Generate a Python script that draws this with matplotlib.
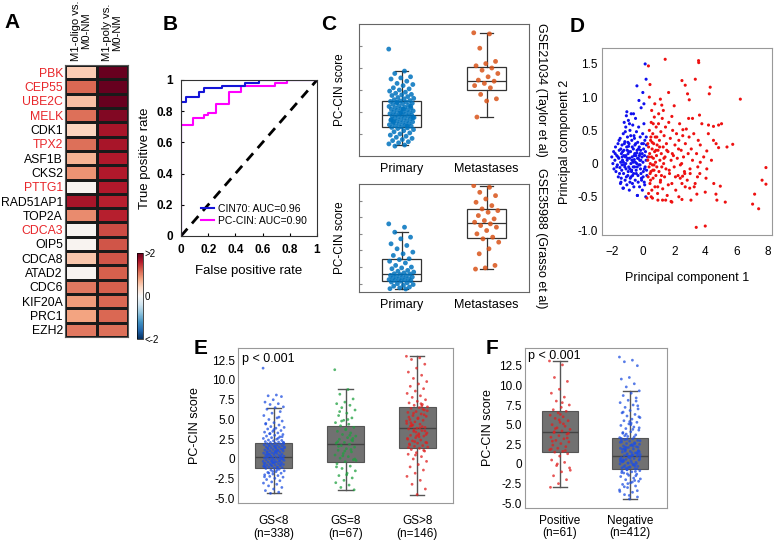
import numpy as np
import matplotlib
matplotlib.use('Agg')
import matplotlib.pyplot as plt
from matplotlib.cm import ScalarMappable
from matplotlib.colors import Normalize

plt.rcParams['font.family'] = ['Liberation Sans', 'DejaVu Sans']

W, H = 778, 541

# ---- A: heatmap ----
genes = ['PBK', 'CEP55', 'UBE2C', 'MELK', 'CDK1', 'TPX2', 'ASF1B', 'CKS2', 'PTTG1', 'RAD51AP1',
         'TOP2A', 'CDCA3', 'OIP5', 'CDCA8', 'ATAD2', 'CDC6', 'KIF20A', 'PRC1', 'EZH2']
red_genes = ['PBK', 'CEP55', 'UBE2C', 'MELK', 'TPX2', 'PTTG1', 'CDCA3']
oligo = [0.5, 1.15, 0.6, 1.1, 0.45, 1.1, 0.7, 0.9, 0.05, 1.65,
         0.95, 0.05, 0.05, 0.55, 0.05, 1.05, 0.85, 0.8, 1.05]
poly = [2.0, 2.0, 2.0, 1.85, 1.65, 1.65, 1.6, 1.6, 1.6, 1.55,
        1.55, 1.3, 1.25, 1.25, 1.2, 1.2, 1.15, 1.15, 1.1]
col_labels = ['M1-oligo vs.\nM0-NM', 'M1-poly vs.\nM0-NM']

# ---- B: ROC ----
cin70_fpr = [0, 0, 0.04, 0.04, 0.13, 0.13, 0.17, 0.17, 0.30, 0.30, 0.47, 0.47, 0.57, 0.57, 1.0]
cin70_tpr = [0, 0.86, 0.86, 0.89, 0.89, 0.925, 0.925, 0.946, 0.946, 0.96, 0.96, 0.98, 0.98, 1.0, 1.0]
pccin_fpr = [0, 0, 0.09, 0.09, 0.17, 0.17, 0.20, 0.20, 0.26, 0.26, 0.35, 0.35, 0.44, 0.44,
             0.69, 0.69, 0.78, 0.78, 1.0]
pccin_tpr = [0, 0.71, 0.71, 0.755, 0.755, 0.776, 0.776, 0.79, 0.79, 0.846, 0.846, 0.925, 0.925,
             0.96, 0.96, 0.98, 0.98, 1.0, 1.0]

# ---- C: PC-CIN score in two cohorts ----
c_groups = ['Primary', 'Metastases']
taylor_prim = [4.86, 3.86, 3.75, 3.6, 3.55, 3.5, 3.4, 3.3, 3.25, 3.2, 3.1, 3.05, 3.0, 2.95, 2.9,
               2.85, 2.8, 2.78, 2.75, 2.7, 2.66, 2.62, 2.6, 2.56, 2.52, 2.5, 2.48, 2.45, 2.42, 2.4,
               2.38, 2.35, 2.3, 2.28, 2.25, 2.22, 2.2, 2.18, 2.15, 2.12, 2.1, 2.08, 2.05, 2.02, 2.0,
               1.98, 1.95, 1.92, 1.9, 1.88, 1.86, 1.84, 1.82, 1.8, 1.78, 1.75, 1.72, 1.7, 1.68, 1.65,
               1.62, 1.6, 1.58, 1.55, 1.52, 1.5, 1.48, 1.45, 1.42, 1.4, 1.38, 1.35, 1.32, 1.3, 1.28,
               1.25, 1.2, 1.15, 1.1, 1.05, 1.0, 0.95, 0.9, 0.85, 0.8, 0.75, 0.7, 0.65, 0.6, 0.55,
               0.5, 0.45, 2.26, 1.96, 1.66, 1.36, 2.44, 1.74, 2.14, 1.56]
taylor_met = [5.6, 5.55, 4.9, 4.3, 4.2, 4.1, 4.0, 3.9, 3.75, 3.6, 3.45, 3.4, 3.3, 3.2, 3.1,
              2.8, 2.6, 2.5, 1.77]
taylor_box = {'q1': [1.32, 3.0], 'med': [1.86, 3.4], 'q3': [2.5, 4.05],
              'lo': [0.5, 1.77], 'hi': [3.86, 5.6]}
grasso_prim = [4.1, 3.9, 3.6, 3.3, 3.2, 2.9, 2.8, 2.6, 2.4, 2.3, 2.2, 2.0, 1.95, 1.85, 1.75,
               1.6, 1.5, 1.45, 1.4, 1.3, 1.25, 1.2, 1.15, 1.1, 1.08, 1.05, 1.0, 0.98, 0.95, 0.9,
               0.88, 0.85, 0.8, 0.78, 0.75, 0.72, 0.7, 0.68, 0.65, 0.6, 0.55, 0.5, 0.45, 0.4,
               0.35, 0.3, 0.25, 0.2, 0.18]
grasso_met = [6.4, 6.3, 6.0, 5.8, 5.6, 5.4, 5.2, 5.0, 4.9, 4.8, 4.6, 4.4, 4.3, 4.2, 4.1, 4.0,
              3.9, 3.7, 3.5, 3.3, 3.2, 3.0, 2.6, 2.3, 1.6, 1.45, 1.38]
grasso_box = {'q1': [0.66, 3.23], 'med': [1.08, 4.13], 'q3': [1.98, 4.97],
              'lo': [0.18, 1.38], 'hi': [3.6, 6.4]}

# ---- D: PCA ----
pc1_blue = [-2.02, -1.95, -1.90, -1.88, -1.82, -1.78, -1.75, -1.70, -1.66, -1.62,
            -1.60, -1.57, -1.54, -1.50, -1.48, -1.45, -1.43, -1.40, -1.38, -1.36,
            -1.33, -1.30, -1.28, -1.26, -1.24, -1.22, -1.20, -1.18, -1.16, -1.14,
            -1.12, -1.10, -1.08, -1.06, -1.05, -1.03, -1.01, -0.99, -0.97, -0.95,
            -0.93, -0.91, -0.89, -0.87, -0.85, -0.83, -0.81, -0.79, -0.77, -0.75,
            -0.73, -0.71, -0.69, -0.67, -0.65, -0.63, -0.61, -0.59, -0.57, -0.55,
            -0.53, -0.51, -0.49, -0.47, -0.45, -0.43, -0.41, -0.39, -0.37, -0.35,
            -0.33, -0.31, -0.29, -0.27, -0.25, -0.23, -0.21, -0.19, -0.17, -0.15,
            -0.13, -0.11, -0.09, -0.07, -0.05, -0.03, -0.01, 0.01, 0.03, 0.05,
            0.07, 0.09, 0.11, 0.13, 0.15, 0.17, 0.19, 0.21, 0.24, 0.28,
            -1.52, -1.35, -1.18, -1.02, -0.86, -0.70, -0.54, -0.38, -0.22, -0.06,
            -1.44, -1.27, -1.11, -0.96, -0.80, -0.64, -0.48, -0.32, -0.16, 0.00,
            -1.62, -1.41, -1.21, -1.00, -0.78, -0.58, -0.36, -0.14, 0.08, 0.20,
            0.13, 0.19, -0.40, -0.02, -1.05, -0.62, -0.27, 0.05, -1.27, -0.37,
            -0.88, -1.15, -0.72, -0.44, -1.32, -0.98, -0.60, -0.24, -0.85, -1.08,
            -1.70, -1.55, -1.36, -1.12, -0.92, -0.68, -0.50, -0.30, -0.10, 0.10,
            -1.80, -1.46, -1.24, -0.94, -0.74, -0.56, -0.42, -0.20, 0.02, 0.22]
pc2_blue = [0.10, 0.00, 0.18, -0.08, 0.05, 0.25, -0.12, 0.12, -0.02, 0.30,
            -0.20, 0.08, 0.20, -0.06, 0.38, 0.02, -0.28, 0.15, -0.10, 0.28,
            0.05, -0.37, 0.45, -0.15, 0.20, 0.62, -0.02, 0.33, -0.25, 0.10,
            0.55, -0.08, 0.72, 0.25, -0.32, 0.05, 0.40, -0.18, 0.15, 0.65,
            -0.05, 0.30, -0.40, 0.08, 0.50, -0.22, 0.18, 0.00, 0.75, -0.12,
            0.35, 0.10, -0.30, 0.58, 0.02, 0.22, -0.15, 0.42, 0.06, -0.05,
            0.28, -0.25, 0.68, 0.12, -0.10, 0.48, 0.00, 0.20, -0.48, 0.32,
            -0.18, 0.08, 0.55, -0.02, 0.25, -0.35, 0.15, 0.40, -0.08, 0.05,
            0.84, -0.22, 0.30, 0.10, -0.40, 0.45, 0.02, -0.12, 0.22, 0.60,
            -0.28, 0.12, 0.35, -0.05, 0.18, -0.50, 0.05, 0.28, -0.18, 0.10,
            -0.15, 0.10, -0.05, 0.20, -0.08, 0.25, 0.15, -0.05, 0.05, 0.15,
            0.22, 0.02, 0.12, -0.12, 0.42, -0.05, 0.30, -0.28, 0.20, -0.20,
            0.10, -0.22, 0.30, 0.08, -0.20, 0.12, 0.08, -0.15, -0.08, 0.40,
            1.50, 1.27, 1.17, 1.07, 0.78, 0.75, 0.95, 0.90, -0.37, -0.48,
            0.60, 0.48, 0.05, -0.15, 0.18, 0.32, -0.35, 0.12, -0.28, -0.20,
            -0.05, 0.35, -0.02, 0.00, 0.18, -0.18, 0.02, 0.22, -0.25, -0.32,
            0.15, -0.30, 0.12, 0.26, -0.10, 0.38, 0.16, -0.02, 0.30, -0.10]
pc1_red = [1.42, 3.57, 3.58, 0.34, 0.44, 2.50, 3.36, 2.71, 4.32, 4.26, 1.64, 2.86, 2.97, 6.26,
           1.11, 2.00, 1.20, 3.63, 2.93, 3.18, 1.85, 4.21, 4.86, 4.53, 2.56, 5.77, 4.53, 4.86,
           3.68, 4.10, 7.91, 7.66, 7.91, 7.18, 7.05, 7.44, 5.29, 4.75, 4.69, 4.97, 4.00, 3.42,
           4.00, 3.08, 2.50, 1.80, 1.25, 0.24, 0.52, 3.46, 3.29, 3.00, 2.71, 2.39, 3.03, 3.50,
           3.52, 2.54, 4.10, 3.68,
           0.30, 0.32, 0.35, 0.38, 0.40, 0.42, 0.44, 0.46, 0.48, 0.50,
           0.52, 0.54, 0.56, 0.58, 0.60, 0.62, 0.64, 0.66, 0.68, 0.70,
           0.72, 0.74, 0.76, 0.78, 0.80, 0.82, 0.84, 0.86, 0.88, 0.90,
           0.93, 0.96, 0.99, 1.02, 1.05, 1.08, 1.11, 1.14, 1.17, 1.20,
           1.23, 1.26, 1.29, 1.32, 1.35, 1.38, 1.41, 1.44, 1.47, 1.50,
           1.55, 1.60, 1.65, 1.70, 1.75, 1.80, 1.85, 1.90, 1.95, 2.00,
           2.05, 2.10, 2.15, 2.20, 2.25, 2.30, 2.35, 2.40, 2.45, 2.50,
           2.55, 2.60, 2.66, 2.72, 2.78, 2.84, 2.90, 2.96, 3.02, 3.10,
           3.18, 3.26, 3.35, 3.44, 3.55, 3.65, 3.78, 3.90, 4.05, 4.20,
           4.40, 4.55, 4.70, 5.05, 5.40, 0.35, 0.50, 0.65, 0.30, 0.45,
           0.55, 0.75, 1.00, 1.30, 0.95, 1.45, 1.85, 0.60, 2.30, 0.40,
           0.36, 0.48, 0.58, 0.70, 0.82, 0.94, 1.06, 1.18, 1.34, 1.52,
           1.68, 1.88, 2.08, 2.28, 2.48, 2.68, 0.62, 0.88, 1.12, 1.62]
pc2_red = [1.57, 1.55, 1.52, 1.47, 1.19, 1.25, 1.27, 1.18, 1.15, 1.05, 1.07, 1.05, 0.96, 0.97,
           0.97, 0.87, 0.88, 0.73, 0.68, 0.68, 0.71, 0.58, 0.58, 0.56, 0.51, 0.29, 0.35, 0.24,
           0.28, 0.19, -0.06, -0.25, -0.31, -0.46, -0.61, -0.68, -0.58, -0.55, -0.46, -0.34, -0.43, -0.96,
           -0.94, -0.55, -0.54, -0.57, -0.55, -0.52, -0.50, -0.46, -0.35, -0.37, -0.35, -0.22, -0.15, -0.20,
           -0.05, -0.19, -0.08, 0.02,
           0.05, -0.20, 0.25, -0.05, 0.50, 0.15, -0.30, 0.00, 0.35, -0.12,
           0.62, 0.10, -0.40, 0.22, -0.02, 0.45, -0.22, 0.08, 0.30, -0.10,
           0.70, 0.18, -0.35, 0.40, 0.02, -0.18, 0.55, 0.12, -0.05, 0.28,
           -0.45, 0.20, 0.60, -0.12, 0.35, 0.05, -0.28, 0.48, 0.15, -0.05,
           0.68, -0.38, 0.25, 0.00, 0.42, -0.20, 0.10, 0.55, -0.08, 0.30,
           -0.48, 0.18, 0.62, -0.15, 0.38, 0.05, -0.30, 0.50, 0.12, -0.05,
           0.28, -0.40, 0.45, 0.08, -0.18, 0.35, 0.60, -0.02, 0.20, -0.30,
           0.42, 0.10, -0.12, 0.30, 0.52, -0.25, 0.15, 0.40, -0.08, 0.22,
           0.05, 0.45, -0.30, 0.15, 0.35, -0.15, 0.60, 0.10, -0.22, 0.45,
           0.05, -0.30, 0.30, 0.60, 0.25, -0.45, 0.40, 0.60, 0.30, -0.15,
           0.80, 0.90, 0.75, 0.80, -0.55, -0.55, -0.58, -0.52, -0.50, 1.00,
           0.10, -0.25, 0.32, -0.02, 0.20, -0.35, 0.25, -0.18, 0.08, 0.20,
           -0.10, 0.15, -0.20, 0.22, 0.00, -0.15, -0.10, 0.40, -0.25, -0.32]

# ---- E: Gleason score ----
e_groups = ['GS<8\n(n=338)', 'GS=8\n(n=67)', 'GS>8\n(n=146)']
gs_lt8 = [11.5, 8.1, 8.0, 7.9, 7.5, 7.2, 7.0, 6.9, 6.6, 6.5, 6.3, 6.0, 5.8, 5.5, 5.2, 5.0,
          4.8, 4.6, 4.5, 4.3, 4.1, 4.0, 3.9, 3.8, 3.6, 3.5, 3.4, 3.3, 3.2, 3.1, 3.0, 2.9,
          2.8, 2.7, 2.6, 2.5, 2.4, 2.35, 2.3, 2.2, 2.15, 2.1, 2.05, 2.0, 1.95, 1.9, 1.85,
          1.8, 1.75, 1.7, 1.65, 1.6, 1.55, 1.5, 1.45, 1.4, 1.35, 1.3, 1.25, 1.2, 1.15, 1.1,
          1.05, 1.0, 0.95, 0.9, 0.85, 0.8, 0.75, 0.7, 0.65, 0.6, 0.55, 0.5, 0.45, 0.4, 0.35,
          0.3, 0.25, 0.2, 0.15, 0.1, 0.05, 0.0, -0.05, -0.1, -0.15, -0.2, -0.25, -0.3, -0.35,
          -0.4, -0.45, -0.5, -0.55, -0.6, -0.65, -0.7, -0.75, -0.8, -0.85, -0.9, -0.95, -1.0,
          -1.05, -1.1, -1.15, -1.2, -1.3, -1.4, -1.5, -1.6, -1.7, -1.8, -1.9, -2.0, -2.1,
          -2.2, -2.3, -2.45, -2.6, -2.75, -2.9, -3.05, -3.2, -3.4, -3.6, -3.8, -4.0, -4.2,
          -4.35, 1.92, 1.42, 0.92, 0.42, -0.08, -0.58, -1.08, 1.72, 1.22, 0.72, 0.22, -0.28,
          -0.78, 1.52, 1.02, 0.52, 0.02, -0.48, -0.98, 2.62, 3.22, 2.12, 1.62, 0.62, 0.12,
          -0.38, -0.88, -1.38, -1.78, 2.82, 3.72, 4.42, 5.3, 0.33, -0.18, 0.88, 1.38, -0.68,
          -1.58, -2.25, 1.08, 0.58, 0.08, -0.42]
gs_eq8 = [11.3, 8.8, 8.2, 7.6, 7.2, 7.0, 6.8, 6.5, 6.2, 5.8, 5.5, 5.2, 4.9, 4.6, 4.4, 4.2,
          4.0, 3.7, 3.5, 3.3, 3.1, 2.9, 2.7, 2.5, 2.3, 2.1, 2.0, 1.86, 1.7, 1.5, 1.3, 1.1,
          0.9, 0.7, 0.5, 0.3, 0.1, -0.1, -0.34, -0.6, -0.9, -1.2, -1.5, -1.8, -2.1, -2.4,
          -2.7, -3.0, -3.3, -3.6, -3.9, 3.8, 2.2, 1.2, 0.4, -0.2, 5.0, 6.0, 2.6, 1.0, -1.0,
          3.0, 4.8, 0.0, -2.0, 1.6, 2.4]
gs_gt8 = [13.0, 12.8, 12.6, 12.0, 11.5, 11.0, 10.6, 10.2, 9.8, 9.5, 9.2, 8.9, 8.6, 8.3, 8.0,
          7.8, 7.5, 7.3, 7.1, 6.9, 6.8, 6.6, 6.5, 6.4, 6.2, 6.0, 5.9, 5.7, 5.5, 5.4, 5.2,
          5.0, 4.9, 4.7, 4.5, 4.4, 4.2, 4.0, 3.9, 3.8, 3.6, 3.5, 3.3, 3.2, 3.0, 2.9, 2.7,
          2.6, 2.4, 2.3, 2.1, 2.0, 1.9, 1.7, 1.6, 1.5, 1.35, 1.2, 1.0, 0.8, 0.6, 0.3, 0.0,
          -0.3, -0.7, -1.0, -1.4, -1.8, -2.2, -2.7, -3.2, -3.8, -4.5, 5.3, 4.1, 3.7, 6.1,
          2.8, 4.6, 5.6, 3.4, 2.5, 7.0, 4.3, 3.1, 5.1, 1.8, 6.3, 2.2, 4.8, 3.95, 4.35, 3.55,
          2.95, 1.45, 6.7, 5.8, 2.05, 3.05, 4.15, 1.1, 0.5]
e_box = {'q1': [-1.2, -0.34, 1.35], 'med': [0.2, 1.86, 3.9], 'q3': [2.0, 4.2, 6.6],
         'lo': [-4.35, -3.9, -4.5], 'hi': [6.5, 8.8, 13.0]}

# ---- F: status groups ----
f_groups = ['Positive\n(n=61)', 'Negative\n(n=412)']
positive = [13.1, 12.6, 11.0, 10.5, 9.5, 9.0, 8.5, 8.0, 7.5, 7.2, 6.9, 6.7, 6.5, 6.2, 6.0,
            5.8, 5.5, 5.3, 5.0, 4.8, 4.6, 4.4, 4.2, 4.0, 3.8, 3.6, 3.4, 3.2, 3.0, 2.8, 2.6,
            2.4, 2.2, 2.0, 1.8, 1.6, 1.5, 1.3, 1.0, 0.5, 0.2, -0.2, -0.5, -1.0, -1.5, -2.0,
            -2.5, -2.97, 5.1, 4.5, 3.9, 6.3, 2.9, 1.7, 0.0, -0.8, 7.8, 4.1, 3.3, 5.6, 1.9]
negative = [13.6, 13.2, 13.0, 12.5, 11.0, 10.8, 10.2, 9.8, 9.3, 9.0, 8.7, 8.4, 8.1, 7.8,
            7.5, 7.2, 7.0, 6.8, 6.5, 6.3, 6.1, 5.9, 5.7, 5.5, 5.3, 5.1, 4.9, 4.7, 4.5, 4.3,
            4.1, 3.9, 3.7, 3.5, 3.35, 3.2, 3.1, 3.0, 2.9, 2.8, 2.7, 2.6, 2.5, 2.4, 2.3, 2.2,
            2.1, 2.0, 1.9, 1.8, 1.7, 1.6, 1.5, 1.4, 1.3, 1.2, 1.1, 1.06, 1.0, 0.9, 0.8, 0.7,
            0.6, 0.5, 0.4, 0.3, 0.2, 0.1, 0.0, -0.1, -0.2, -0.3, -0.4, -0.5, -0.6, -0.7,
            -0.85, -1.0, -1.15, -1.3, -1.45, -1.6, -1.8, -2.0, -2.2, -2.4, -2.6, -2.8, -3.0,
            -3.3, -3.6, -3.9, -4.2, -4.45, 3.05, 2.55, 2.05, 1.55, 1.05, 0.55, 0.05, -0.45,
            2.75, 2.25, 1.75, 1.25, 0.75, 0.25, -0.25, -0.75, 2.95, 2.45, 1.95, 1.45, 0.95,
            0.45, -0.05, -0.55, 6.0, 5.0, 4.0, -1.5, -2.5, -3.5, 4.4, 3.6, 7.4, 5.4, -1.1,
            -2.1, 1.15, 0.65, 0.15, -0.35, 1.35, 0.85, 0.35, -0.15, 2.15, 1.65, 2.35, 1.85,
            -0.95, -1.25, -1.9, -2.3, -2.9, -3.4, -4.0, 3.25, 3.45, 3.8, 4.6, 5.2, 6.6, 8.0,
            0.12, 0.62, 1.12, 1.62, 2.12, -0.38, -0.88, 2.62, 3.15, 0.92, 1.42, 0.42, -0.62]
f_box = {'q1': [1.49, -0.68], 'med': [4.03, 1.06], 'q3': [6.74, 3.35],
         'lo': [-2.97, -4.45], 'hi': [13.1, 9.3]}


def px(x0, y0, x1, y1):
    return [x0 / W, 1 - y1 / H, (x1 - x0) / W, (y1 - y0) / H]


def jitter(n, width):
    # spread points sideways in a fixed, repeatable pattern
    return (np.arange(n) * 0.618034 % 1 - 0.5) * width


def stats(box, i):
    return {'q1': box['q1'][i], 'med': box['med'][i], 'q3': box['q3'][i],
            'whislo': box['lo'][i], 'whishi': box['hi'][i], 'fliers': []}


fig = plt.figure(figsize=(W / 100, H / 100), dpi=100)

for letter, x, y in [('A', 12, 22), ('B', 170, 25), ('C', 329, 25), ('D', 577, 27),
                     ('E', 201, 348), ('F', 492, 349)]:
    fig.text(x / W, 1 - y / H, letter, fontsize=15, fontweight='bold', ha='center', va='center')

# A
ax = fig.add_axes(px(65, 65, 128, 337))
vals = np.array([oligo, poly]).T
ax.pcolormesh(vals, cmap='RdBu_r', vmin=-2, vmax=2, edgecolors='#1a1a1a', linewidth=0.8)
ax.set_ylim(len(genes), 0)
ax.set_xlim(0, 2)
ax.set_yticks(np.arange(len(genes)) + 0.5)
ax.set_yticklabels(genes, fontsize=8.8)
for lab in ax.get_yticklabels():
    lab.set_color('#e8262a' if lab.get_text() in red_genes else 'black')
ax.set_xticks([])
ax.tick_params(length=0, pad=1.5)
for sp in ax.spines.values():
    sp.set_color('#555555')
for i, txt in enumerate(col_labels):
    ax.text(i + 0.5, -0.25, txt, rotation=90, ha='center', va='bottom', fontsize=8.1,
            linespacing=1.0)

cax = fig.add_axes(px(137, 253, 143, 339))
cb = fig.colorbar(ScalarMappable(norm=Normalize(-2, 2), cmap='RdBu_r'), cax=cax)
cb.set_ticks([-2, 0, 2])
cb.set_ticklabels(['<-2', '0', '>2'])
cb.ax.tick_params(length=0, labelsize=7, pad=1)
cb.outline.set_linewidth(0.5)

# B
ax = fig.add_axes(px(181, 80, 317, 236))
ax.plot([0, 1], [0, 1], '--', color='black', lw=2, dashes=(3.5, 2.5))
ax.plot(pccin_fpr, pccin_tpr, color='#ff00ff', lw=1.5, label='PC-CIN: AUC=0.90')
ax.plot(cin70_fpr, cin70_tpr, color='#1414d8', lw=1.5, label='CIN70: AUC=0.96')
h, l = ax.get_legend_handles_labels()
ax.legend(h[::-1], l[::-1], loc='lower right', frameon=False, fontsize=7.5, handlelength=1.2,
          handletextpad=0.4, borderaxespad=0.6, labelspacing=0.2)
ax.set_xlim(0, 1)
ax.set_ylim(0, 1)
ticks = [0, 0.2, 0.4, 0.6, 0.8, 1]
tlabels = ['0', '0.2', '0.4', '0.6', '0.8', '1']
ax.set_xticks(ticks)
ax.set_xticklabels(tlabels, fontweight='bold', fontsize=8.5)
ax.set_yticks(ticks)
ax.set_yticklabels(tlabels, fontweight='bold', fontsize=8.5)
ax.tick_params(direction='in', length=2, pad=6)
ax.set_xlabel('False positive rate', fontsize=9.5, labelpad=6)
ax.set_ylabel('True positive rate', fontsize=9.5)
for sp in ax.spines.values():
    sp.set_color('#333333')
    sp.set_linewidth(0.8)

# C
c_colors = ['#0072bd', '#d95319']
for rect, prim, met, box, ylim, yt, name in [
        ((359, 24, 529, 156), taylor_prim, taylor_met, taylor_box, (0, 6), np.arange(1, 6),
         'GSE21034 (Taylor et al)'),
        ((359, 184, 529, 292), grasso_prim, grasso_met, grasso_box, (0, 6.5), np.arange(0.5, 6, 1),
         'GSE35988 (Grasso et al)')]:
    ax = fig.add_axes(px(*rect))
    ax.bxp([stats(box, 0), stats(box, 1)], positions=[1, 2], widths=0.45, patch_artist=True,
           boxprops=dict(facecolor='white', edgecolor='#333333', lw=0.9),
           medianprops=dict(color='#333333', lw=0.9),
           whiskerprops=dict(color='#333333', lw=0.9),
           capprops=dict(color='#333333', lw=0.9), capwidths=0.15, zorder=1)
    for pos, pts, col in [(1, prim, c_colors[0]), (2, met, c_colors[1])]:
        ax.scatter(pos + jitter(len(pts), 0.3), pts, s=12, color=col, alpha=0.85,
                   edgecolors='none', zorder=3)
    ax.set_xlim(0.5, 2.5)
    ax.set_ylim(*ylim)
    ax.set_yticks(yt)
    ax.set_yticklabels([])
    ax.set_xticks([1, 2])
    ax.set_xticklabels(c_groups, fontsize=9)
    ax.tick_params(axis='y', direction='in', length=2, color='#888888')
    ax.tick_params(axis='x', length=0, pad=5)
    ax.set_ylabel('PC-CIN score', fontsize=8.5, labelpad=6)
    ax.text(1.035, 0.5, name, rotation=270, transform=ax.transAxes, ha='left', va='center',
            fontsize=9)
    for sp in ax.spines.values():
        sp.set_color('#666666')

# D
ax = fig.add_axes(px(602, 48, 772, 235))
ax.scatter(pc1_blue, pc2_blue, s=5, color='#1010ee', edgecolors='none')
ax.scatter(pc1_red, pc2_red, s=5, color='#ee1111', edgecolors='none')
ax.set_xlim(-2.65, 8.3)
ax.set_ylim(-1.075, 1.74)
ax.set_xticks([-2, 0, 2, 4, 6, 8])
ax.set_yticks([1.5, 1.0, 0.5, 0, -0.5, -1.0])
ax.set_yticklabels(['1.5', '1.0', '0.5', '0', '-0.5', '-1.0'])
ax.tick_params(length=0, labelsize=8.5, pad=3)
ax.tick_params(axis='x', pad=8)
ax.set_xlabel('Principal component 1', fontsize=9, labelpad=10)
ax.set_ylabel('Principal component 2', fontsize=9, labelpad=5)
for sp in ax.spines.values():
    sp.set_color('#999999')


def gray_boxes(ax, box, n):
    ax.bxp([stats(box, i) for i in range(n)], positions=list(range(n)), widths=0.52,
           patch_artist=True,
           boxprops=dict(facecolor='#717171', edgecolor='#555555', lw=0.8),
           medianprops=dict(color='#444444', lw=1.0),
           whiskerprops=dict(color='#555555', lw=1.0),
           capprops=dict(color='#555555', lw=1.0), capwidths=0.2, zorder=1)


score_ticks = [12.5, 10.0, 7.5, 5.0, 2.5, 0, -2.5, -5.0]
score_labels = ['12.5', '10.0', '7.5', '5.0', '2.5', '0', '-2.5', '-5.0']

# E
ax = fig.add_axes(px(238, 348, 453, 503))
gray_boxes(ax, e_box, 3)
for pos, pts, col in [(0, gs_lt8, '#2050e0'), (1, gs_eq8, '#20a040'), (2, gs_gt8, '#e02020')]:
    ax.scatter(pos + jitter(len(pts), 0.3), pts, s=4, color=col, alpha=0.75, edgecolors='none',
               zorder=3)
ax.set_xlim(-0.5, 2.5)
ax.set_ylim(-5.57, 14.05)
ax.set_yticks(score_ticks)
ax.set_yticklabels(score_labels)
ax.set_xticks([0, 1, 2])
ax.set_xticklabels(e_groups, fontsize=9, linespacing=1.05)
ax.tick_params(length=0, labelsize=8.5, pad=2)
ax.tick_params(axis='x', pad=9)
ax.set_ylabel('PC-CIN score', fontsize=9, labelpad=8)
ax.text(0.02, 0.97, 'p < 0.001', transform=ax.transAxes, ha='left', va='top', fontsize=9)
for sp in ax.spines.values():
    sp.set_color('#999999')

# F
ax = fig.add_axes(px(525, 348, 667, 508))
gray_boxes(ax, f_box, 2)
for pos, pts, col in [(0, positive, '#e02020'), (1, negative, '#2050e0')]:
    ax.scatter(pos + jitter(len(pts), 0.3), pts, s=4, color=col, alpha=0.75, edgecolors='none',
               zorder=3)
ax.set_xlim(-0.5, 1.53)
ax.set_ylim(-5.6, 14.75)
ax.set_yticks(score_ticks)
ax.set_yticklabels(score_labels)
ax.set_xticks([0, 1])
ax.set_xticklabels(f_groups, fontsize=9, linespacing=1.05)
ax.tick_params(length=0, labelsize=8.5, pad=2)
ax.tick_params(axis='x', pad=5)
ax.set_ylabel('PC-CIN score', fontsize=9, labelpad=4)
ax.text(0.02, 0.99, 'p < 0.001', transform=ax.transAxes, ha='left', va='top', fontsize=9)
for sp in ax.spines.values():
    sp.set_color('#999999')

fig.savefig('out.png', dpi=100)
